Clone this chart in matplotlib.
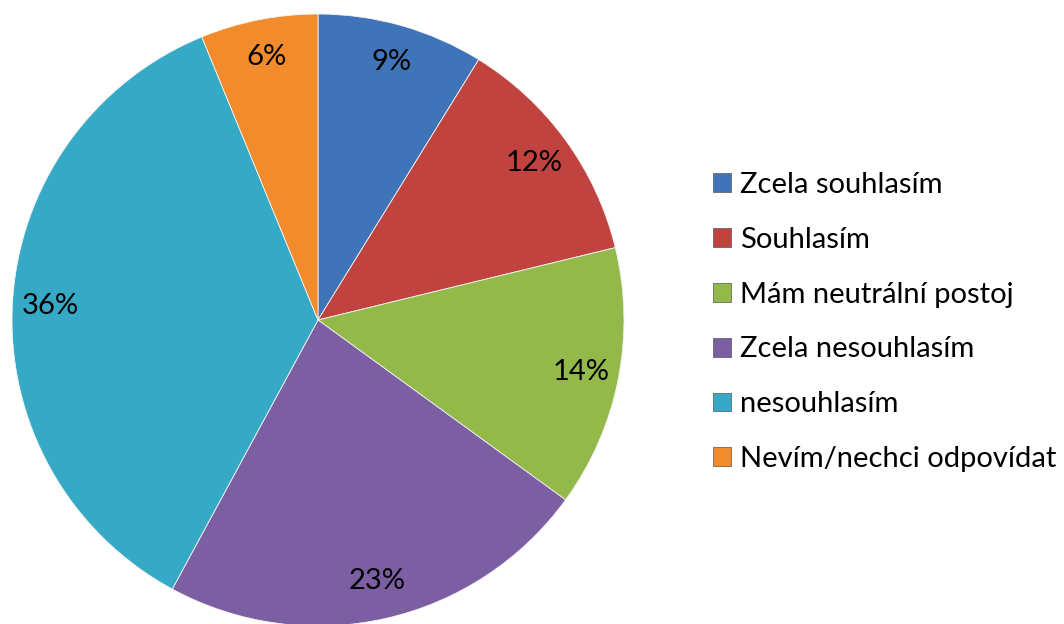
import matplotlib
matplotlib.use("Agg")
import matplotlib.pyplot as plt
from matplotlib.patches import Patch

plt.rcParams['font.family'] = ['Lato', 'DejaVu Sans']

labels = ['Zcela souhlasím', 'Souhlasím', 'Mám neutrální postoj',
          'Zcela nesouhlasím', 'nesouhlasím', 'Nevím/nechci odpovídat']
values = [8.8, 12.4, 13.8, 22.9, 35.9, 6.2]
colors = ['#3f74b8', '#c0433f', '#93b94b', '#7c5ea3', '#35a9c6', '#f28b2c']

fig = plt.figure(figsize=(10.64, 6.24), dpi=100)
# pie centred at (318, 320) px, radius 306 px
ax = fig.add_axes([12 / 1064, (624 - 320 - 306) / 624, 612 / 1064, 612 / 624])

wedges, texts, autotexts = ax.pie(
    values, colors=colors, startangle=90, counterclock=False,
    autopct=lambda p: '%.0f%%' % p, pctdistance=0.875, radius=1,
    wedgeprops=dict(edgecolor='#f4f4f4', linewidth=0.6),
    textprops=dict(fontsize=21, color='black'))
ax.set_xlim(-1, 1)
ax.set_ylim(-1, 1)
ax.set_aspect('equal')
ax.axis('off')

handles = [Patch(facecolor=c, edgecolor='#555555', linewidth=0.5) for c in colors]
fig.legend(handles, labels, loc='center left',
           bbox_to_anchor=(687 / 1064, (624 - 322) / 624),
           frameon=False, fontsize=21, handlelength=0.62, handleheight=0.62,
           handletextpad=0.3, labelspacing=0.99)

fig.savefig('out.png', dpi=100)
